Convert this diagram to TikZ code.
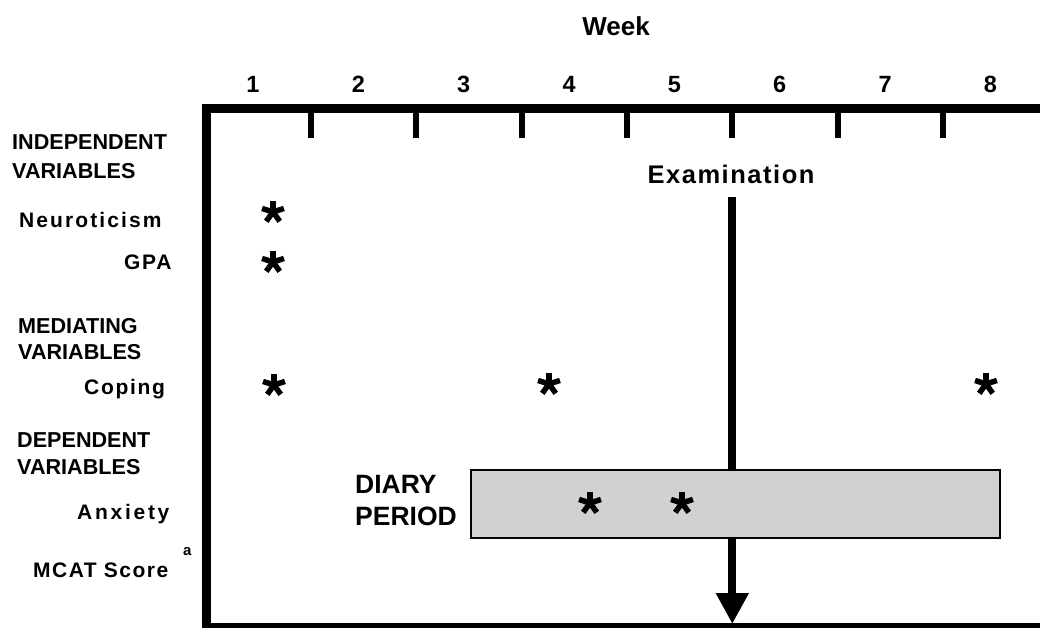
\documentclass[tikz,border=0pt]{standalone}
\usepackage{fontspec}
\setmainfont{Liberation Sans}
\usetikzlibrary{arrows.meta}
\begin{document}
\begin{tikzpicture}[x=1pt,y=-1pt,
  capsl/.style={font=\fontsize{21.6}{24}\selectfont\bfseries, inner sep=0pt, anchor=base west},
  lowl/.style={font=\fontsize{21}{24}\selectfont\bfseries\addfontfeature{LetterSpace=#1}, inner sep=0pt, anchor=base west},
  lowl/.default=10,
  weeknum/.style={font=\fontsize{23.5}{26}\selectfont\bfseries, inner sep=0pt, anchor=base},
  frameline/.style={line width=9pt, line join=miter},
  tickline/.style={line width=6pt},
  examarrow/.style={line width=8pt, -{Triangle[width=31pt,length=31pt]}},
  diarybox/.style={draw=black, line width=1.5pt, fill=black!18},
  asteriskmark/.pic={\foreach \a in {270,342,54,126,198} \draw[line width=5.5pt] (0,0) -- (\a:11.5);}
]
\useasboundingbox (0,0) rectangle (1040,627);
\clip (0,0) rectangle (1040,627);

% frame
\draw[frameline] (1060,108.5) -- (206.5,108.5) -- (206.5,627.5) -- (1060,627.5);
\foreach \x in {311,416.3,521.7,627,732.3,837.7,943}
  \draw[tickline] (\x,110) -- (\x,138);

% title and week numbers
\node[font=\fontsize{26}{30}\selectfont\bfseries, inner sep=0pt, anchor=base] (week) at (616,35) {Week};
\foreach \k in {1,...,8}
  \node[weeknum] (w\k) at ({253+105.35*(\k-1)},92) {\k};

% examination arrow
\node[font=\fontsize{25.5}{30}\selectfont\bfseries\addfontfeature{LetterSpace=6}, inner sep=0pt, anchor=base] (exam) at (731,183) {Examination};
\coordinate (examend) at (732.3,624);
\draw[examarrow] ([yshift=-14pt]exam.base -| examend) -- (examend);

% diary period box
\node[diarybox, minimum width=529pt, minimum height=68pt, inner sep=0pt, anchor=north west] (diary) at (470,469) {};
\node[font=\fontsize{26.5}{32}\selectfont\bfseries, inner sep=0pt, anchor=base west] (diaryt) at (355,493) {DIARY};
\node[font=\fontsize{26.5}{32}\selectfont\bfseries, inner sep=0pt, anchor=base west] (periodt) at (355,525) {PERIOD};

% left labels
\node[capsl] (indep1) at (12,149) {INDEPENDENT};
\node[capsl] (indep2) at (12,178) {VARIABLES};
\node[lowl=10] (neuro) at (19,227) {Neuroticism};
\node[lowl=8] (gpa) at (124,269) {GPA};
\node[capsl] (med1) at (18,333) {MEDIATING};
\node[capsl] (med2) at (18,359) {VARIABLES};
\node[lowl=8] (coping) at (84,394) {Coping};
\node[capsl] (dep1) at (17,447) {DEPENDENT};
\node[capsl] (dep2) at (17,474) {VARIABLES};
\node[lowl=13] (anx) at (77,519) {Anxiety};
\node[lowl=7] (mcat) at (33,577) {MCAT Score};
\node[font=\fontsize{15}{18}\selectfont\bfseries, inner sep=0pt, anchor=base west] (supa) at (183,555) {a};

% asterisks
\pic (s1) at (273,212) {asteriskmark};
\pic (s2) at (273,262) {asteriskmark};
\pic (s3) at (274,385) {asteriskmark};
\pic (s4) at (549,384) {asteriskmark};
\pic (s5) at (986,384) {asteriskmark};
\pic (s6) at (590,503) {asteriskmark};
\pic (s7) at (682,503) {asteriskmark};
\end{tikzpicture}
\end{document}
